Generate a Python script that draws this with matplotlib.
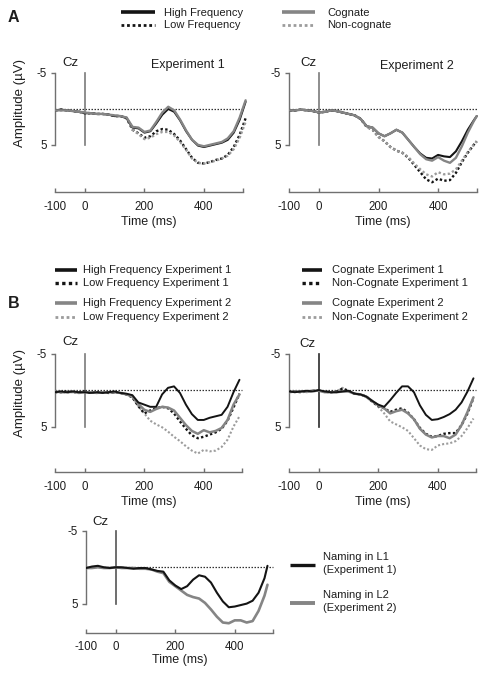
import matplotlib
matplotlib.use("Agg")
import matplotlib.pyplot as plt

plt.rcParams['font.family'] = ['Liberation Sans', 'DejaVu Sans']

W, H = 485, 674

# ---------------- data ----------------
# Panel A, Experiment 1
tA1 = [-100, -80, -60, -40, -20, 0, 20, 40, 60, 80, 100, 120, 140, 160, 180, 200, 220, 240,
       260, 280, 300, 320, 340, 360, 380, 400, 420, 440, 460, 480, 500, 520, 540]
a1_high_freq = [0.2, 0.1, 0.2, 0.3, 0.4, 0.6, 0.6, 0.7, 0.7, 0.8, 1.0, 1.0, 1.3, 2.6, 2.7, 3.3, 3.1, 2.0,
                0.8, 0.0, 0.4, 1.6, 3.1, 4.3, 5.1, 5.3, 5.1, 4.9, 4.7, 4.3, 3.3, 1.5, -1.0]
a1_cognate = [0.2, 0.2, 0.2, 0.3, 0.4, 0.5, 0.6, 0.7, 0.7, 0.8, 0.9, 1.0, 1.2, 2.5, 2.6, 3.2, 3.0, 1.8,
              0.5, -0.3, 0.2, 1.5, 3.0, 4.3, 5.0, 5.2, 5.0, 4.8, 4.6, 4.1, 3.1, 1.2, -1.2]
a1_low_freq = [0.2, 0.1, 0.2, 0.3, 0.4, 0.6, 0.6, 0.7, 0.7, 0.8, 1.0, 1.0, 1.3, 2.9, 3.4, 4.0, 3.8, 3.1,
               2.8, 2.9, 3.5, 4.4, 5.6, 6.8, 7.5, 7.6, 7.4, 7.1, 6.9, 6.4, 5.3, 3.6, 1.3]
a1_noncognate = [0.2, 0.2, 0.2, 0.3, 0.4, 0.5, 0.6, 0.7, 0.7, 0.8, 0.9, 1.0, 1.2, 2.9, 3.5, 4.2, 4.0, 3.5,
                 3.2, 3.2, 3.7, 4.6, 5.7, 6.9, 7.5, 7.6, 7.4, 7.2, 6.9, 6.5, 5.6, 4.0, 1.8]

# Panel A, Experiment 2
tA2 = [-100, -80, -60, -40, -20, 0, 20, 40, 60, 80, 100, 120, 140, 160, 180, 200, 220, 240,
       260, 280, 300, 320, 340, 360, 380, 400, 420, 440, 460, 480, 500, 520, 530]
a2_high_freq = [0.2, 0.2, 0.1, 0.2, 0.3, 0.5, 0.4, 0.2, 0.3, 0.5, 0.7, 0.9, 1.4, 2.4, 2.6, 3.4, 3.8, 3.4,
                2.9, 3.3, 4.3, 5.3, 6.2, 6.8, 6.9, 6.4, 6.6, 6.7, 5.9, 4.5, 2.9, 1.6, 1.0]
a2_cognate = [0.2, 0.2, 0.1, 0.2, 0.3, 0.5, 0.4, 0.2, 0.3, 0.5, 0.7, 0.9, 1.4, 2.4, 2.6, 3.4, 3.8, 3.4,
              2.9, 3.3, 4.3, 5.3, 6.3, 7.0, 7.2, 6.7, 7.2, 7.5, 6.8, 5.2, 3.3, 1.7, 1.0]
a2_low_freq = [0.2, 0.2, 0.1, 0.2, 0.3, 0.5, 0.4, 0.2, 0.3, 0.5, 0.7, 0.9, 1.4, 2.5, 2.9, 3.9, 4.5, 5.3,
               5.8, 6.1, 6.8, 7.8, 8.8, 9.8, 10.2, 9.7, 10.0, 9.9, 8.9, 7.4, 6.1, 5.0, 4.5]
a2_noncognate = [0.2, 0.2, 0.1, 0.2, 0.3, 0.5, 0.4, 0.2, 0.3, 0.5, 0.7, 0.9, 1.4, 2.5, 2.9, 3.9, 4.5, 5.3,
                 5.8, 6.1, 6.7, 7.6, 8.4, 9.1, 9.4, 8.8, 9.1, 9.0, 8.4, 7.2, 6.0, 5.0, 4.5]

# Panel B, frequency
tB = [-100, -80, -60, -40, -20, 0, 20, 40, 60, 80, 100, 120, 140, 160, 180, 200, 220, 240,
      260, 280, 300, 320, 340, 360, 380, 400, 420, 440, 460, 480, 500, 520]
b1_hf_exp1 = [0.3, 0.2, 0.3, 0.2, 0.3, 0.3, 0.4, 0.3, 0.4, 0.3, 0.2, 0.4, 0.5, 0.7, 1.7, 2.0, 2.3, 2.3,
              0.6, -0.3, -0.5, 0.4, 2.0, 3.3, 4.1, 4.1, 3.8, 3.6, 3.4, 2.3, 0.3, -1.4]
b1_lf_exp1 = [0.3, 0.3, 0.2, 0.3, 0.3, 0.2, 0.4, 0.3, 0.3, 0.4, 0.3, 0.4, 0.6, 1.0, 2.2, 3.2, 2.8, 2.5,
              2.3, 2.5, 3.2, 4.3, 5.3, 6.2, 6.6, 6.4, 6.1, 5.8, 5.3, 4.2, 2.4, 0.5]
b1_hf_exp2 = [0.2, 0.3, 0.3, 0.2, 0.4, 0.3, 0.3, 0.4, 0.3, 0.3, 0.3, 0.4, 0.6, 0.9, 1.9, 2.7, 3.0, 2.6,
              2.3, 2.4, 2.8, 3.8, 4.8, 5.6, 6.0, 5.5, 5.8, 5.6, 5.2, 4.1, 2.0, 0.6]
b1_lf_exp2 = [0.3, 0.2, 0.4, 0.3, 0.2, 0.3, 0.3, 0.3, 0.4, 0.3, 0.4, 0.4, 0.6, 1.0, 2.2, 3.2, 4.2, 4.7,
              5.1, 5.7, 6.4, 7.0, 7.7, 8.3, 8.7, 8.2, 8.4, 8.3, 7.8, 6.8, 5.0, 3.6]

# Panel B, cognate status
b2_cog_exp1 = [0.2, 0.3, 0.2, 0.1, 0.2, 0.0, 0.2, 0.3, 0.3, 0.2, 0.1, 0.5, 0.6, 0.9, 1.5, 2.0, 2.3, 1.4,
               0.4, -0.5, -0.5, 0.3, 2.1, 3.4, 4.1, 4.0, 3.7, 3.3, 2.7, 1.7, 0.2, -1.6]
b2_noncog_exp1 = [0.2, 0.2, 0.3, 0.2, 0.1, 0.1, 0.2, 0.3, 0.2, -0.2, 0.1, 0.5, 0.6, 0.9, 1.6, 2.2, 2.5, 3.0,
                  2.7, 2.5, 3.1, 4.0, 5.2, 6.0, 6.4, 6.3, 6.0, 5.9, 5.9, 4.8, 3.2, 1.1]
b2_cog_exp2 = [0.3, 0.2, 0.2, 0.2, 0.1, 0.1, 0.3, 0.3, 0.3, 0.2, 0.2, 0.5, 0.6, 0.9, 1.5, 2.1, 2.5, 3.2,
               2.9, 2.7, 3.2, 4.0, 5.3, 6.1, 6.5, 6.3, 6.3, 6.6, 6.1, 4.8, 3.0, 1.0]
b2_noncog_exp2 = [0.2, 0.3, 0.2, 0.3, 0.2, 0.1, 0.2, 0.4, 0.2, -0.3, 0.2, 0.5, 0.6, 1.0, 1.6, 2.3, 3.2, 4.3,
                  4.7, 5.1, 5.6, 6.6, 7.6, 8.1, 8.2, 7.6, 7.4, 7.3, 7.0, 6.3, 5.2, 3.9]

# Panel C, L1 vs L2
tC = [-100, -80, -60, -40, -20, 0, 20, 40, 60, 80, 100, 120, 140, 160, 180, 200, 220, 240,
      260, 280, 300, 320, 340, 360, 380, 400, 420, 440, 460, 480, 500, 510]
c_l1 = [0.1, -0.1, -0.2, 0.0, 0.1, 0.0, 0.0, 0.1, 0.2, 0.1, 0.1, 0.3, 0.5, 0.6, 1.8, 2.5, 3.0, 2.6,
        1.7, 1.1, 1.3, 2.1, 3.5, 4.7, 5.5, 5.4, 5.2, 5.0, 4.6, 3.5, 1.5, -0.2]
c_l2 = [0.1, 0.1, 0.0, 0.1, 0.1, 0.0, 0.1, 0.1, 0.1, 0.2, 0.2, 0.3, 0.6, 0.8, 2.0, 2.6, 3.2, 3.8,
        4.1, 4.3, 4.9, 5.8, 6.8, 7.6, 7.7, 7.3, 7.3, 7.6, 7.4, 6.0, 3.9, 2.4]

x_ticks = [-100, 0, 200, 400]
x_tick_labels = ['-100', '0', '200', '400']
y_ticks = [-5, 5]
y_tick_labels = ['-5', '5']

# ---------------- styles ----------------
BLACK = '#141414'
GRAY = '#858585'
LGRAY = '#9c9c9c'
AXC = '#707070'
TXT = '#1e1e1e'

fig = plt.figure(figsize=(W / 100, H / 100), dpi=100)


def rect(left, top, right, bottom):
    return [left / W, 1 - bottom / H, (right - left) / W, (bottom - top) / H]


def setup(ax, ybot, vline_color):
    ax.set_xlim(-100, 545)
    ax.set_ylim(ybot, -7)
    for s in ['top', 'right']:
        ax.spines[s].set_visible(False)
    ax.spines['left'].set_bounds(-5, 5)
    ax.spines['bottom'].set_bounds(-100, 530)
    for s in ['left', 'bottom']:
        ax.spines[s].set_color(AXC)
        ax.spines[s].set_linewidth(1.0)
    ax.set_xticks(x_ticks + [530])
    ax.set_xticklabels(x_tick_labels + [''])
    ax.set_yticks(y_ticks)
    ax.set_yticklabels(y_tick_labels)
    ax.tick_params(axis='x', direction='in', length=3, width=1, color=AXC,
                   labelsize=8.3, labelcolor=TXT, pad=6.3)
    ax.tick_params(axis='y', direction='out', length=3, width=1, color=AXC,
                   labelsize=8.3, labelcolor=TXT, pad=3)
    ax.patch.set_alpha(0)
    ax.axhline(0, xmin=0, xmax=(530 + 100) / 645, color='#333333', lw=0.9, ls=(0, (1.2, 1.2)), zorder=1)
    ax.plot([0, 0], [-5, 5], color=vline_color, lw=1.2, zorder=1)


def solid(ax, t, v, c, lw):
    ax.plot(t, v, color=c, lw=lw, solid_capstyle='round', zorder=3)


def dotted(ax, t, v, c, lw):
    ax.plot(t, v, color=c, lw=lw, ls=(0, (1, 1)), zorder=2)


# Panel A
axA1 = fig.add_axes(rect(55.2, 58.6, 247.1, 192.3))
setup(axA1, 11.6, '#7a7a7a')
dotted(axA1, tA1, a1_low_freq, BLACK, 1.7)
dotted(axA1, tA1, a1_noncognate, LGRAY, 1.7)
solid(axA1, tA1, a1_high_freq, BLACK, 1.5)
solid(axA1, tA1, a1_cognate, GRAY, 1.7)

axA2 = fig.add_axes(rect(289.3, 58.6, 481.2, 192.3))
setup(axA2, 11.6, '#7a7a7a')
dotted(axA2, tA2, a2_low_freq, BLACK, 1.7)
dotted(axA2, tA2, a2_noncognate, LGRAY, 1.7)
solid(axA2, tA2, a2_high_freq, BLACK, 1.5)
solid(axA2, tA2, a2_cognate, GRAY, 1.7)

# Panel B
axB1 = fig.add_axes(rect(55.0, 338.9, 246.9, 471.8))
setup(axB1, 11.2, '#7a7a7a')
dotted(axB1, tB, b1_lf_exp2, LGRAY, 1.5)
dotted(axB1, tB, b1_lf_exp1, BLACK, 1.7)
solid(axB1, tB, b1_hf_exp2, GRAY, 1.8)
solid(axB1, tB, b1_hf_exp1, BLACK, 1.4)

axB2 = fig.add_axes(rect(289.0, 338.9, 480.9, 471.8))
setup(axB2, 11.2, '#2a2a2a')
dotted(axB2, tB, b2_noncog_exp2, LGRAY, 1.5)
dotted(axB2, tB, b2_noncog_exp1, BLACK, 1.7)
solid(axB2, tB, b2_cog_exp2, GRAY, 1.8)
solid(axB2, tB, b2_cog_exp1, BLACK, 1.4)

# Panel C
axC = fig.add_axes(rect(86.0, 516.4, 277.9, 632.7))
setup(axC, 9.0, '#555555')
solid(axC, tC, c_l2, GRAY, 1.9)
solid(axC, tC, c_l1, BLACK, 1.5)

# ---------------- overlay annotations ----------------
ov = fig.add_axes([0, 0, 1, 1])
ov.set_xlim(0, W)
ov.set_ylim(H, 0)
ov.axis('off')
ov.patch.set_alpha(0)


def txt(x, y, s, size=8, ha='left', **kw):
    ov.text(x, y, s, fontsize=size, ha=ha, va='center', color=TXT, **kw)


txt(8, 17, 'A', size=11.5, weight='bold')
txt(8, 303, 'B', size=11.5, weight='bold')

# axis labels
txt(20, 103, 'Amplitude (µV)', size=9.5, ha='center', rotation=90)
txt(20, 393, 'Amplitude (µV)', size=9.5, ha='center', rotation=90)
txt(149, 221.5, 'Time (ms)', size=9, ha='center')
txt(383, 221.5, 'Time (ms)', size=9, ha='center')
txt(149, 501.5, 'Time (ms)', size=9, ha='center')
txt(383, 501.5, 'Time (ms)', size=9, ha='center')
txt(180, 660, 'Time (ms)', size=9, ha='center')

# legend A
ov.plot([121, 155], [12, 12], color=BLACK, lw=2.6, solid_capstyle='butt')
ov.plot([121, 155], [25, 25], color=BLACK, lw=2.0, ls=(0, (1, 1)))
ov.plot([282, 315], [12, 12], color=GRAY, lw=2.6, solid_capstyle='butt')
ov.plot([282, 315], [25, 25], color=LGRAY, lw=2.0, ls=(0, (1, 1)))
txt(164, 12.5, 'High Frequency')
txt(164, 25, 'Low Frequency')
txt(327, 12.5, 'Cognate')
txt(327, 25, 'Non-cognate')

# panel A titles
txt(70, 63, 'Cz', size=9.5, ha='center')
txt(308, 63, 'Cz', size=9.5, ha='center')
txt(188, 65, 'Experiment 1', size=9, ha='center')
txt(417, 66, 'Experiment 2', size=9, ha='center')

# legend B left
ov.plot([55, 77], [270, 270], color=BLACK, lw=2.6, solid_capstyle='butt')
ov.plot([55, 77], [283, 283], color=BLACK, lw=2.4, ls=(0, (1, 1)))
ov.plot([55, 77], [303, 303], color=GRAY, lw=2.6, solid_capstyle='butt')
ov.plot([55, 77], [317, 317], color=LGRAY, lw=2.0, ls=(0, (1, 1)))
txt(83, 270, 'High Frequency Experiment 1')
txt(83, 283, 'Low Frequency Experiment 1')
txt(83, 303, 'High Frequency Experiment 2')
txt(83, 317, 'Low Frequency Experiment 2')

# legend B right
ov.plot([302, 322], [270, 270], color=BLACK, lw=2.6, solid_capstyle='butt')
ov.plot([302, 322], [283, 283], color=BLACK, lw=2.4, ls=(0, (1, 1)))
ov.plot([302, 322], [303, 303], color=GRAY, lw=2.6, solid_capstyle='butt')
ov.plot([302, 322], [317, 317], color=LGRAY, lw=2.0, ls=(0, (1, 1)))
txt(332, 270, 'Cognate Experiment 1')
txt(332, 283, 'Non-Cognate Experiment 1')
txt(332, 303, 'Cognate Experiment 2')
txt(332, 317, 'Non-Cognate Experiment 2')

txt(70, 342, 'Cz', size=9.5, ha='center')
txt(307, 344, 'Cz', size=9.5, ha='center')

# panel C
txt(100, 522, 'Cz', size=9.5, ha='center')
ov.plot([290, 315], [565, 565], color=BLACK, lw=2.4, solid_capstyle='butt')
ov.plot([290, 315], [603, 603], color=GRAY, lw=2.8, solid_capstyle='butt')
txt(323, 557, 'Naming in L1')
txt(323, 570, '(Experiment 1)')
txt(323, 595, 'Naming in L2')
txt(323, 608, '(Experiment 2)')

fig.savefig('out.png', dpi=100)
